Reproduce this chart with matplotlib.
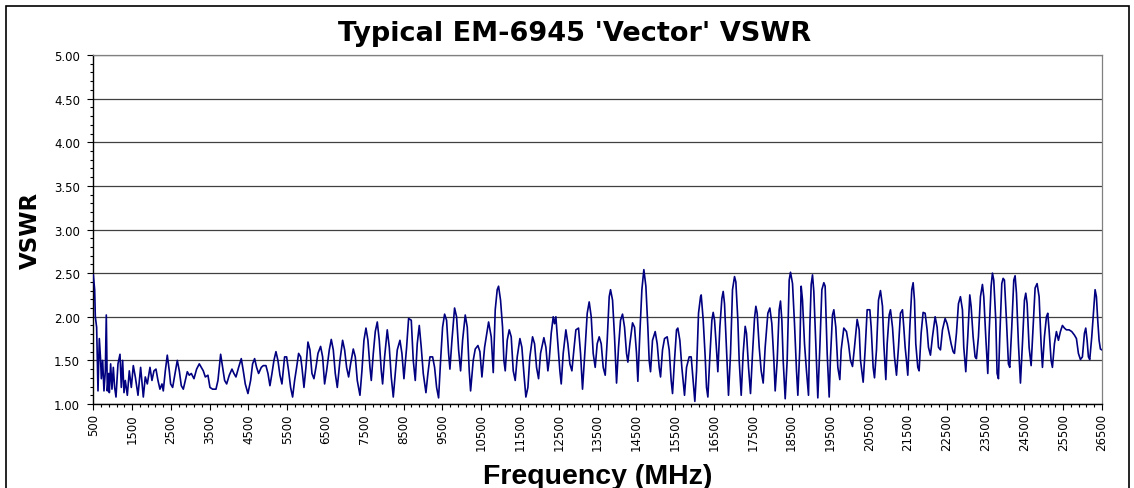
import numpy as np
import matplotlib
matplotlib.use("Agg")
import matplotlib.pyplot as plt
from matplotlib.ticker import MultipleLocator
from matplotlib.patches import Rectangle

plt.rcParams['font.family'] = ['DejaVu Sans']

# VSWR trace, turning points (MHz, VSWR)
freq_mhz = [
    500, 535, 552, 586, 604, 621, 655, 689, 707, 741, 775, 810, 835, 861, 896, 913,
    947, 981, 1016, 1050, 1085, 1136, 1188, 1222, 1256, 1291, 1325, 1377, 1428, 1480,
    1531, 1583, 1652, 1720, 1789, 1840, 1892, 1961, 2012, 2064, 2115, 2167, 2218, 2270,
    2304, 2356, 2407, 2459, 2493, 2545, 2614, 2665, 2717, 2768, 2820, 2871, 2923, 2974,
    3026, 3095, 3163, 3232, 3284, 3335, 3387, 3455, 3507, 3576, 3662, 3713, 3782, 3833,
    3885, 3937, 4005, 4074, 4125, 4177, 4246, 4314, 4366, 4417, 4486, 4555, 4606, 4658,
    4709, 4761, 4830, 4881, 4950, 5002, 5053, 5105, 5156, 5208, 5259, 5311, 5362, 5431,
    5483, 5534, 5586, 5637,
    5689, 5741, 5792, 5844, 5878, 5930, 5981, 6033, 6084, 6136, 6187, 6239, 6291, 6359,
    6411, 6462, 6514, 6583, 6634, 6686, 6737, 6789, 6858, 6926, 6978, 7029, 7081, 7132,
    7201, 7253, 7304, 7373, 7424, 7476, 7528, 7579, 7631, 7665, 7717, 7768, 7820, 7871,
    7923, 7957, 8009, 8077, 8129, 8180, 8232, 8283, 8335, 8404, 8455, 8507, 8576, 8627,
    8696, 8747, 8799, 8850, 8902, 8953, 9005, 9074, 9125, 9177, 9246, 9297, 9349, 9400,
    9452, 9503, 9555, 9606, 9658, 9692, 9744, 9812, 9864, 9916, 9967, 10019, 10087, 10139,
    10190, 10225, 10293, 10345, 10414, 10465, 10517, 10586, 10689, 10757, 10809,
    10860, 10911, 10946, 10997, 11049, 11083, 11118, 11169, 11221, 11272, 11324, 11375,
    11427, 11496, 11547, 11599, 11650, 11702, 11753, 11822, 11874, 11925, 11977, 12028,
    12114, 12166, 12217, 12251, 12303, 12355, 12389, 12423, 12475, 12526, 12561, 12612,
    12681, 12733, 12784, 12836, 12887, 12939, 13007, 13059, 13110, 13179, 13231, 13282,
    13334, 13385, 13437, 13488, 13540, 13592, 13643, 13695, 13746, 13798, 13832, 13884,
    13935, 13987, 14038, 14090, 14141, 14193, 14244, 14279, 14330, 14399, 14451, 14502,
    14536, 14588, 14640, 14691, 14743, 14794, 14828, 14863, 14914, 14983, 15035, 15086,
    15121, 15172, 15224, 15292, 15344, 15395, 15430, 15481, 15533, 15567, 15619, 15670,
    15739, 15791, 15859, 15911, 15962, 16005,
    16049, 16100, 16152, 16169, 16221, 16272, 16306, 16341, 16392, 16444, 16478, 16513,
    16564, 16598, 16650, 16702, 16736, 16770, 16822, 16873, 16925, 16976, 17028, 17062,
    17114, 17148, 17200, 17251, 17303, 17337, 17389, 17440, 17492, 17543, 17578, 17612,
    17664, 17715, 17767, 17818, 17887, 17939, 17990, 18042, 18076, 18128, 18179, 18213,
    18248, 18282, 18334, 18385, 18437, 18471, 18523, 18574, 18626, 18660, 18712, 18746,
    18780, 18832, 18883, 18935, 18969, 19004, 19038, 19072, 19124, 19175, 19227, 19279,
    19330, 19364, 19416, 19468, 19502, 19553, 19588, 19639, 19691, 19742, 19777, 19845,
    19914, 19966, 20017, 20069, 20120, 20189, 20241, 20275, 20344, 20395, 20447, 20516,
    20550, 20601, 20636, 20687, 20739, 20790, 20842, 20876, 20928, 20962, 21014, 21048,
    21100, 21151, 21203,
    21254, 21305, 21357, 21391, 21426, 21460, 21494, 21546, 21597, 21632, 21666, 21700,
    21752, 21786, 21838, 21889, 21941, 21992, 22027, 22078, 22130, 22199, 22250, 22285,
    22336, 22388, 22456, 22508, 22559, 22611, 22662, 22697, 22748, 22800, 22851, 22903,
    22937, 22989, 23040, 23092, 23126, 23178, 23229, 23264, 23315, 23367, 23418, 23453,
    23504, 23556, 23590, 23642, 23676, 23710, 23762, 23796, 23831, 23865, 23917, 23951,
    23985, 24037, 24088, 24123, 24174, 24226, 24260, 24295, 24346, 24398, 24449, 24501,
    24535, 24570, 24621, 24673, 24724, 24776, 24827, 24879, 24930, 24965, 25016, 25068,
    25102, 25136, 25188, 25222, 25274, 25325, 25377, 25428, 25480, 25532, 25583, 25652,
    25720, 25789, 25841, 25892, 25944, 25995, 26047, 26081, 26116, 26150, 26184, 26236,
    26287, 26322, 26356, 26390, 26425, 26459, 26500,
]
vswr = [
    2.48, 2.31, 2.00, 1.88, 1.50, 1.15, 1.75, 1.50, 1.29, 1.50, 1.15, 1.38, 2.02, 1.15, 1.35, 1.13,
    1.46, 1.17, 1.42, 1.19, 1.08, 1.46, 1.57, 1.19, 1.50, 1.13, 1.27, 1.10, 1.38, 1.19,
    1.44, 1.31, 1.10, 1.42, 1.08, 1.31, 1.23, 1.42, 1.27, 1.38, 1.40, 1.27, 1.17, 1.23,
    1.15, 1.38, 1.56, 1.38, 1.23, 1.19, 1.37, 1.50, 1.38, 1.21, 1.17, 1.27, 1.37, 1.33,
    1.35, 1.29, 1.40, 1.46, 1.42, 1.38, 1.31, 1.33, 1.19, 1.17, 1.17, 1.27, 1.57, 1.42,
    1.27, 1.23, 1.33, 1.40, 1.35, 1.31, 1.42, 1.52, 1.38, 1.23, 1.12, 1.27, 1.46, 1.52,
    1.42, 1.35, 1.42, 1.44, 1.44, 1.35, 1.21, 1.35, 1.50, 1.60, 1.50, 1.33, 1.23, 1.54,
    1.54, 1.38, 1.19, 1.08,
    1.27, 1.42, 1.58, 1.54, 1.42, 1.19, 1.42, 1.71, 1.62, 1.35, 1.29, 1.42, 1.58, 1.66,
    1.54, 1.23, 1.38, 1.62, 1.74, 1.62, 1.35, 1.19, 1.50, 1.73, 1.62, 1.42, 1.31, 1.46,
    1.63, 1.54, 1.27, 1.10, 1.38, 1.73, 1.87, 1.73, 1.42, 1.27, 1.58, 1.83, 1.94, 1.73,
    1.38, 1.23, 1.54, 1.85, 1.65, 1.31, 1.08, 1.35, 1.62, 1.73, 1.58, 1.29, 1.65, 1.98,
    1.96, 1.50, 1.27, 1.69, 1.90, 1.65, 1.35, 1.13, 1.35, 1.54, 1.54, 1.42, 1.19, 1.07,
    1.50, 1.88, 2.03, 1.96, 1.58, 1.40, 1.73, 2.10, 2.00, 1.62, 1.38, 1.73, 2.02, 1.88,
    1.38, 1.15, 1.50, 1.63, 1.67, 1.60, 1.31, 1.65, 1.94, 1.77, 1.36,
    2.08, 2.31, 2.35, 2.19, 1.88, 1.50, 1.38, 1.73, 1.85, 1.77, 1.38, 1.27,
    1.54, 1.75, 1.65, 1.35, 1.08, 1.19, 1.54, 1.77, 1.69, 1.42, 1.29, 1.58,
    1.76, 1.65, 1.38, 1.50, 1.81, 2.00, 1.92, 2.00, 1.69, 1.38, 1.23, 1.58,
    1.85, 1.69, 1.46, 1.38, 1.62, 1.85, 1.87, 1.58, 1.17, 1.65, 2.04, 2.17,
    2.00, 1.58, 1.42, 1.69, 1.77, 1.69, 1.42, 1.33, 1.73, 2.23, 2.31, 2.19,
    1.77, 1.24, 1.65, 1.96, 2.03, 1.88, 1.58, 1.48, 1.69, 1.93, 1.88, 1.58,
    1.26, 1.81, 2.31, 2.54, 2.35, 1.88, 1.50, 1.37, 1.73, 1.83, 1.69, 1.42,
    1.31, 1.62, 1.75, 1.77, 1.62, 1.27, 1.12, 1.50, 1.85, 1.87, 1.73, 1.42,
    1.10, 1.42, 1.54, 1.54, 1.27, 1.03,
    1.38, 2.04, 2.23, 2.25, 1.96, 1.54, 1.19, 1.08, 1.54, 1.96, 2.05, 1.96,
    1.62, 1.37, 1.88, 2.21, 2.29, 2.15, 1.62, 1.10, 1.58, 2.31, 2.46, 2.40,
    1.96, 1.50, 1.10, 1.58, 1.89, 1.81, 1.42, 1.12, 1.58, 1.98, 2.12, 2.04,
    1.65, 1.38, 1.24, 1.65, 2.04, 2.10, 1.92, 1.50, 1.15, 1.50, 2.08, 2.18,
    1.96, 1.50, 1.06, 1.50, 2.42, 2.51, 2.38, 1.92, 1.38, 1.10, 1.65, 2.35,
    2.19, 1.69, 1.38, 1.10, 1.88, 2.37, 2.48, 2.29, 1.69, 1.07, 1.65, 2.31,
    2.39, 2.35, 1.58, 1.08, 1.54, 2.02, 2.08, 1.88, 1.42, 1.28, 1.62, 1.87,
    1.83, 1.69, 1.50, 1.43, 1.65, 1.97, 1.85, 1.50, 1.25, 1.62, 2.08, 2.08,
    1.88, 1.42, 1.30, 1.62, 2.19, 2.30, 2.12, 1.69, 1.28, 1.69, 2.02, 2.08,
    1.88, 1.54, 1.33,
    1.65, 2.04, 2.08, 1.88, 1.65, 1.50, 1.33, 1.88, 2.31, 2.39, 2.19, 1.69,
    1.42, 1.38, 1.81, 2.05, 2.04, 1.85, 1.65, 1.56, 1.77, 2.00, 1.88, 1.65,
    1.62, 1.85, 1.98, 1.92, 1.81, 1.69, 1.60, 1.58, 1.81, 2.15, 2.23, 2.08,
    1.65, 1.37, 1.77, 2.25, 2.12, 1.77, 1.54, 1.52, 1.77, 2.23, 2.37, 2.23,
    1.77, 1.35, 1.81, 2.35, 2.50, 2.42, 1.96, 1.35, 1.29, 1.77, 2.38, 2.44,
    2.42, 1.96, 1.46, 1.42, 1.88, 2.42, 2.47, 2.27, 1.69, 1.24, 1.69, 2.19,
    2.27, 2.15, 1.65, 1.44, 1.88, 2.33, 2.38, 2.23, 1.69, 1.42, 1.77, 2.00,
    2.04, 1.85, 1.50, 1.42, 1.69, 1.83, 1.73, 1.83, 1.90, 1.87, 1.85, 1.85,
    1.83, 1.79, 1.75, 1.58, 1.51, 1.54, 1.81, 1.87, 1.73, 1.54, 1.51, 1.77,
    2.08, 2.31, 2.23, 1.96, 1.73, 1.63, 1.62,
]

x_ticks = list(range(500, 26501, 1000))
y_ticks = [1.0, 1.5, 2.0, 2.5, 3.0, 3.5, 4.0, 4.5, 5.0]

W, H = 1134, 489
fig = plt.figure(figsize=(W / 100, H / 100), dpi=100)
fig.patch.set_facecolor('white')

# chart area border
fig.patches.append(Rectangle((5.5 / W, -0.05), (1128.5 - 5.5) / W, 1.05 - 7 / H,
                             transform=fig.transFigure, fill=False,
                             edgecolor='black', linewidth=1.2))

ax = fig.add_axes([93.3 / W, (H - 405) / H, (1102 - 93.3) / W, (405 - 56) / H])
ax.plot(freq_mhz, vswr, color='#000080', linewidth=1.2, zorder=3)

ax.set_xlim(500, 26500)
ax.set_ylim(1, 5)
ax.set_xticks(x_ticks)
ax.set_xticklabels([str(t) for t in x_ticks], rotation=90, fontsize=8.5)
ax.xaxis.set_minor_locator(MultipleLocator(200, offset=100))
ax.set_yticks(y_ticks)
ax.set_yticklabels(['%.2f' % t for t in y_ticks], fontsize=8.5)
ax.yaxis.set_minor_locator(MultipleLocator(0.1))

ax.tick_params(axis='both', which='major', direction='out', length=4.5, width=0.8, color='black')
ax.tick_params(axis='both', which='minor', direction='out', length=2.2, width=0.8, color='black')
ax.tick_params(axis='x', which='major', pad=2)
ax.tick_params(axis='y', which='major', pad=5)

ax.yaxis.grid(True, which='major', color='#404040', linewidth=0.9)
ax.set_axisbelow(True)
for side in ('top', 'right'):
    ax.spines[side].set_color('#808080')
    ax.spines[side].set_linewidth(0.9)
for side in ('left', 'bottom'):
    ax.spines[side].set_color('black')
    ax.spines[side].set_linewidth(1.0)

fig.text(575 / W, 1 - 41 / H, "Typical EM-6945 'Vector' VSWR",
         ha='center', va='baseline', fontsize=19.5, fontweight='bold')
fig.text(598 / W, 1 - 484 / H, "Frequency (MHz)", family=['Liberation Sans', 'DejaVu Sans'],
         ha='center', va='baseline', fontsize=20.5, fontweight='bold')
fig.text(30 / W, 1 - 230 / H, "VSWR", rotation=90,
         ha='center', va='center', fontsize=16.5, fontweight='bold')

fig.savefig('out.png', dpi=100)
